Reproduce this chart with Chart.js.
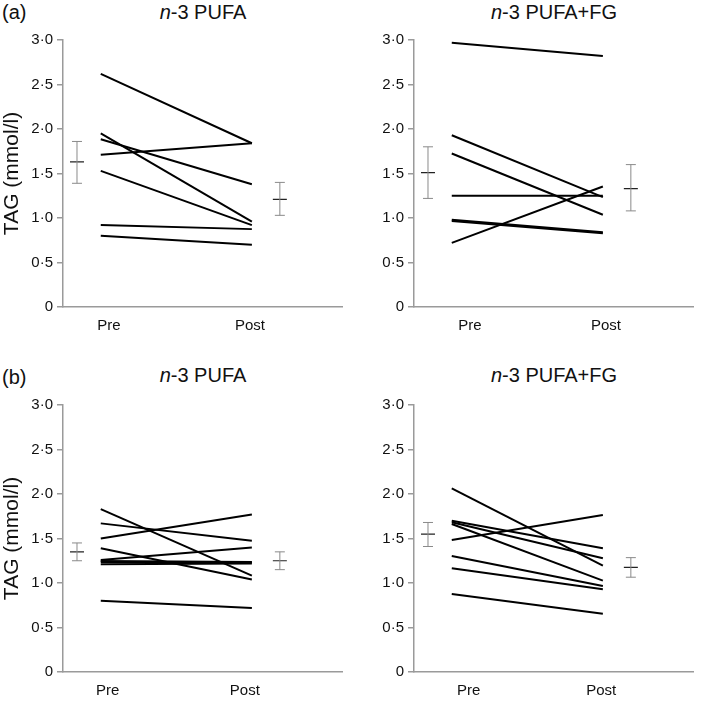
<!DOCTYPE html>
<html>
<head>
<meta charset="utf-8">
<script src="https://cdn.jsdelivr.net/npm/chart.js@4.4.1/dist/chart.umd.min.js"></script>
<style>
  html, body { margin: 0; padding: 0; background: #fff; }
  #wrap { position: relative; width: 702px; height: 701px; font-family: "Liberation Sans", Arial, sans-serif; color: #111; }
  .pane { position: absolute; }
  .title { position: absolute; width: 200px; text-align: center; font-size: 20px; line-height: 24px; }
  .tag { position: absolute; font-size: 20px; line-height: 24px; }
</style>
</head>
<body>
<div id="wrap">
  <div class="tag" style="left:2px;top:0px;">(a)</div>
  <div class="tag" style="left:2px;top:365px;">(b)</div>
  <div class="title" style="left:103px;top:0px;"><i>n</i>-3 PUFA</div>
  <div class="title" style="left:454px;top:0px;"><i>n</i>-3 PUFA+FG</div>
  <div class="title" style="left:103px;top:363px;"><i>n</i>-3 PUFA</div>
  <div class="title" style="left:454px;top:363px;"><i>n</i>-3 PUFA+FG</div>
  <div class="pane" style="left:0;top:0;"><canvas id="c0" width="351" height="350"></canvas></div>
  <div class="pane" style="left:351px;top:0;"><canvas id="c1" width="351" height="350"></canvas></div>
  <div class="pane" style="left:0;top:350px;"><canvas id="c2" width="351" height="351"></canvas></div>
  <div class="pane" style="left:351px;top:350px;"><canvas id="c3" width="351" height="351"></canvas></div>
</div>
<script>
// ---- data ----
const categories = ['Pre', 'Post'];
const yTickLabels = ['0', '0·5', '1·0', '1·5', '2·0', '2·5', '3·0'];
const yAxisTitle = 'TAG (mmol/l)';

// (a) n-3 PUFA
const aPufaPre  = [2.62, 1.95, 1.885, 1.71, 1.53, 0.92, 0.80];
const aPufaPost = [1.84, 0.96, 1.38, 1.84, 0.92, 0.875, 0.70];
const aPufaMean = [1.63, 1.21];
const aPufaLow  = [1.39, 1.03];
const aPufaHigh = [1.86, 1.40];

// (a) n-3 PUFA+FG
const aFgPre  = [2.97, 1.93, 1.725, 1.25, 0.98, 0.965, 0.72];
const aFgPost = [2.82, 1.235, 1.036, 1.25, 0.84, 0.83, 1.354];
const aFgMean = [1.51, 1.33];
const aFgLow  = [1.22, 1.08];
const aFgHigh = [1.80, 1.60];

// (b) n-3 PUFA
const bPufaPre  = [1.83, 1.67, 1.50, 1.39, 1.258, 1.247, 1.235, 1.21, 0.80];
const bPufaPost = [1.082, 1.475, 1.77, 1.04, 1.40, 1.236, 1.23, 1.22, 0.72];
const bPufaMean = [1.35, 1.25];
const bPufaLow  = [1.25, 1.15];
const bPufaHigh = [1.45, 1.35];

// (b) n-3 PUFA+FG
const bFgPre  = [2.064, 1.70, 1.682, 1.663, 1.483, 1.303, 1.165, 0.876];
const bFgPost = [1.194, 1.39, 1.278, 1.026, 1.764, 0.966, 0.929, 0.655];
const bFgMean = [1.55, 1.175];
const bFgLow  = [1.41, 1.065];
const bFgHigh = [1.68, 1.285];

// ---- layout / positions on the x scale (0..10) ----
const xPoint = [1.35, 6.75];   // Pre, Post positions of subject lines
const xErr   = [0.5, 7.75];    // summary error bars
const panels = [
  { id: 'c0', pre: aPufaPre, post: aPufaPost, mean: aPufaMean, low: aPufaLow, high: aPufaHigh, showTitle: true,  top: 40, right: 8, bottomH: 43, labelPos: [1.64, 6.68] },
  { id: 'c1', pre: aFgPre,   post: aFgPost,   mean: aFgMean,   low: aFgLow,   high: aFgHigh,   showTitle: false, top: 40, right: 8, bottomH: 43, labelPos: [2.0, 6.86] },
  { id: 'c2', pre: bPufaPre, post: bPufaPost, mean: bPufaMean, low: bPufaLow, high: bPufaHigh, showTitle: true,  top: 55, right: 1, bottomH: 29, labelPos: [1.6, 6.5] },
  { id: 'c3', pre: bFgPre,   post: bFgPost,   mean: bFgMean,   low: bFgLow,   high: bFgHigh,   showTitle: false, top: 55, right: 1, bottomH: 29, labelPos: [1.95, 6.69] }
];

const AXIS = '#9a9a9a';
const ERR = '#8a8a8a';
const FONT = '"Liberation Sans", Arial, sans-serif';

function buildDatasets(p) {
  const ds = [];
  p.pre.forEach((v, i) => {
    ds.push({
      data: [{ x: xPoint[0], y: v }, { x: xPoint[1], y: p.post[i] }],
      showLine: true, borderColor: '#000', borderWidth: 2, pointRadius: 0, clip: false
    });
  });
  for (let k = 0; k < 2; k++) {
    ds.push({
      data: [{ x: xErr[k], y: p.low[k] }, { x: xErr[k], y: p.high[k] }],
      showLine: true, borderColor: ERR, borderWidth: 1,
      pointStyle: 'line', pointRadius: 5, pointBorderColor: ERR, pointBorderWidth: 1, pointHoverRadius: 5
    });
    ds.push({
      data: [{ x: xErr[k], y: p.mean[k] }],
      showLine: false, pointStyle: 'line', pointRadius: 7, pointBorderColor: '#222', pointBorderWidth: 1.2, pointHoverRadius: 7
    });
  }
  return ds;
}

panels.forEach(p => {
  new Chart(document.getElementById(p.id), {
    type: 'scatter',
    data: { datasets: buildDatasets(p) },
    options: {
      responsive: false,
      animation: false,
      devicePixelRatio: 1,
      events: [],
      layout: { padding: { top: p.top, right: p.right, left: 0, bottom: 0 } },
      plugins: { legend: { display: false }, tooltip: { enabled: false }, title: { display: false } },
      scales: {
        x: {
          type: 'linear', min: 0, max: 10,
          grid: { display: false, drawTicks: false },
          border: { display: true, color: AXIS, width: 1.5 },
          afterBuildTicks: s => { s.ticks = p.labelPos.map(v => ({ value: v })); },
          afterFit: s => { s.height = p.bottomH; },
          ticks: {
            autoSkip: false, maxRotation: 0, minRotation: 0, padding: 10,
            color: '#111', font: { family: FONT, size: 15 },
            callback: (v, i) => categories[i]
          }
        },
        y: {
          type: 'linear', min: 0, max: 3,
          grid: { drawOnChartArea: false, drawTicks: true, tickLength: 6, color: AXIS, lineWidth: 1.5 },
          border: { display: true, color: AXIS, width: 1.5 },
          afterFit: s => { s.width = 63; },
          ticks: {
            stepSize: 0.5, padding: 4, color: '#111', font: { family: FONT, size: 15 },
            callback: (v, i) => yTickLabels[i]
          },
          title: {
            display: p.showTitle, text: yAxisTitle, color: '#111',
            font: { family: FONT, size: 21 }, padding: { top: 0, bottom: 0 }
          }
        }
      }
    }
  });
});
</script>
</body>
</html>
